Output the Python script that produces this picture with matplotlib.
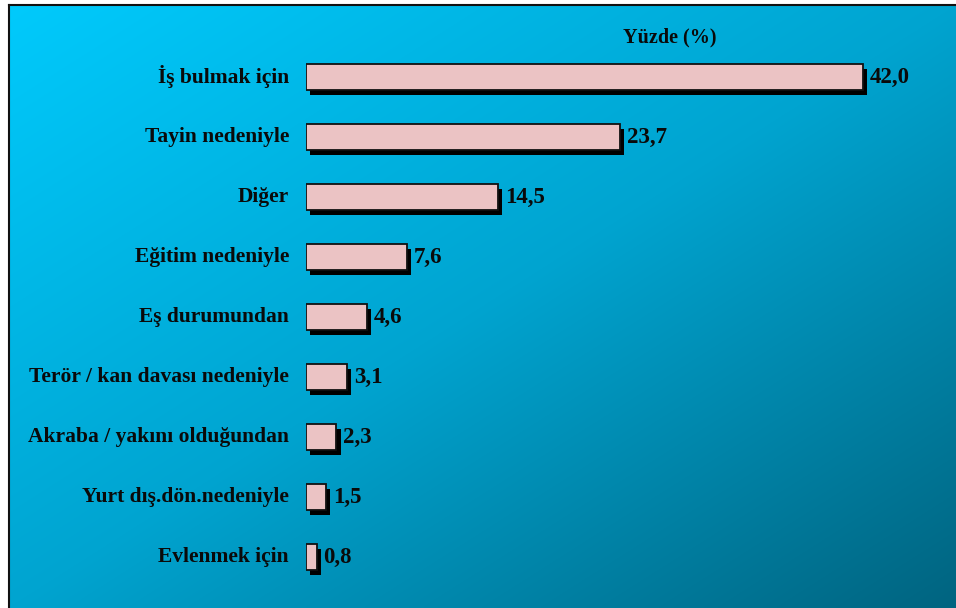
import numpy as np
import matplotlib.pyplot as plt
import matplotlib.patheffects as pe

# Reasons for migration (percent)
categories = ['İş bulmak için', 'Tayin nedeniyle', 'Diğer', 'Eğitim nedeniyle',
              'Eş durumundan', 'Terör / kan davası nedeniyle',
              'Akraba / yakını olduğundan', 'Yurt dış.dön.nedeniyle', 'Evlenmek için']
values = [42.0, 23.7, 14.5, 7.6, 4.6, 3.1, 2.3, 1.5, 0.8]
value_labels = ['42,0', '23,7', '14,5', '7,6', '4,6', '3,1', '2,3', '1,5', '0,8']

W, H = 956, 608
fig = plt.figure(figsize=(W / 100, H / 100), dpi=100)
fig.patch.set_facecolor('white')

# background panel with diagonal gradient
bg = fig.add_axes([9 / W, 0, 1 - 9 / W, 1 - 5 / H])
xx, yy = np.meshgrid(np.linspace(0, 1, 300), np.linspace(0, 1, 200))
t = 0.5 * (xx + yy)
stops = np.array([0.0, 0.5, 1.0])
cols = np.array([[0, 202, 252], [0, 164, 208], [0, 100, 128]]) / 255
img = np.stack([np.interp(t, stops, cols[:, k]) for k in range(3)], axis=-1)
bg.imshow(img, aspect='auto', extent=[0, 1, 1, 0], interpolation='bilinear')
bg.set_xlim(0, 1)
bg.set_ylim(1, 0)
bg.set_xticks([])
bg.set_yticks([])
for s in ['right', 'bottom']:
    bg.spines[s].set_visible(False)
for s in ['left', 'top']:
    bg.spines[s].set_linewidth(1.5)
    bg.spines[s].set_color('#111111')

# bar axes
scale = 13.26  # px per percent
x0 = 306
ax = fig.add_axes([x0 / W, (H - 587) / H, (W - x0) / W, 540 / H])
ax.set_facecolor('none')
y = np.arange(len(categories))
bars = ax.barh(y, values, height=0.42, color='#EBC3C4', edgecolor='#111111', linewidth=1.3)
for b in bars:
    b.set_path_effects([pe.SimplePatchShadow(offset=(3, -3.6), shadow_rgbFace='black', alpha=1),
                        pe.Normal()])
ax.set_xlim(0, (W - x0) / scale)
ax.set_ylim(len(categories) - 0.5, -0.5)
ax.axis('off')

font = dict(family='Liberation Serif', fontweight='bold', color='#0a0a0a')
for yi, cat in zip(y, categories):
    ax.text(-17 / scale, yi, cat, ha='right', va='center', fontsize=15.5, **font)
for yi, v, lab in zip(y, values, value_labels):
    ax.text(v + 7 / scale, yi, lab, ha='left', va='center', fontsize=16.5, **font)

fig.text(670 / W, 1 - 37 / H, 'Yüzde (%)', ha='center', va='center', fontsize=14.5, **font)

fig.savefig('out.png', dpi=100)
